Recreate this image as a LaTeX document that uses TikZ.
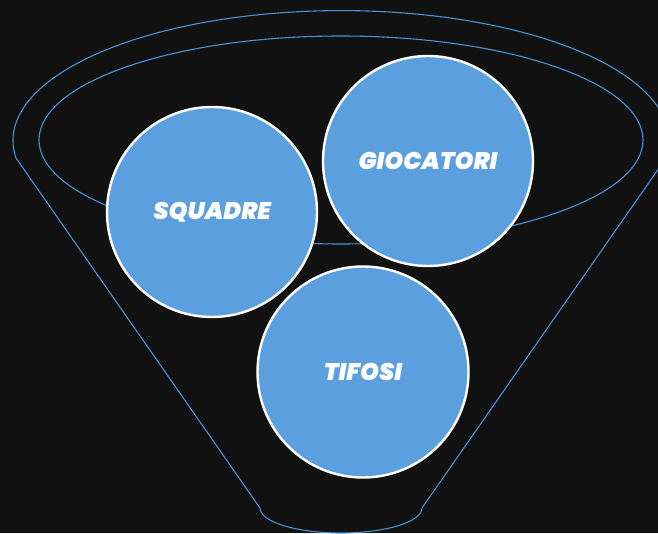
\documentclass[tikz,border=0pt]{standalone}
\usepackage{fontspec}
\setmainfont{Poppins}[BoldItalicFont={Poppins Black Italic}]
\definecolor{bg}{HTML}{111111}
\definecolor{funnel}{HTML}{4C91D8}
\definecolor{disc}{HTML}{5B9FDF}
\begin{document}
\begin{tikzpicture}[x=1pt,y=1pt,
  funnelline/.style={draw=funnel,line width=1.1pt},
  bubble/.style={circle,draw=white,line width=2.4pt,fill=disc,minimum size=#1,inner sep=0pt,
    text=white,font=\fontsize{24}{26}\selectfont\bfseries\itshape}]
\fill[bg] (0,0) rectangle (658,533);
\useasboundingbox (0,0) rectangle (658,533);
% funnel outline
\draw[funnelline] (16,375) arc[start angle=187.7,end angle=-7.7,x radius=328,y radius=130]
  -- (422,25) arc[start angle=0,end angle=-180,x radius=81,y radius=25] -- cycle;
% inner rim
\draw[funnelline] (341,393) ellipse[x radius=302,y radius=104];
% circles
\node[bubble=210pt] (squadre) at (212,321) {SQUADRE};
\node[bubble=210pt] (giocatori) at (428,372) {GIOCATORI};
\node[bubble=211pt] (tifosi) at (363,161) {TIFOSI};
\end{tikzpicture}
\end{document}
